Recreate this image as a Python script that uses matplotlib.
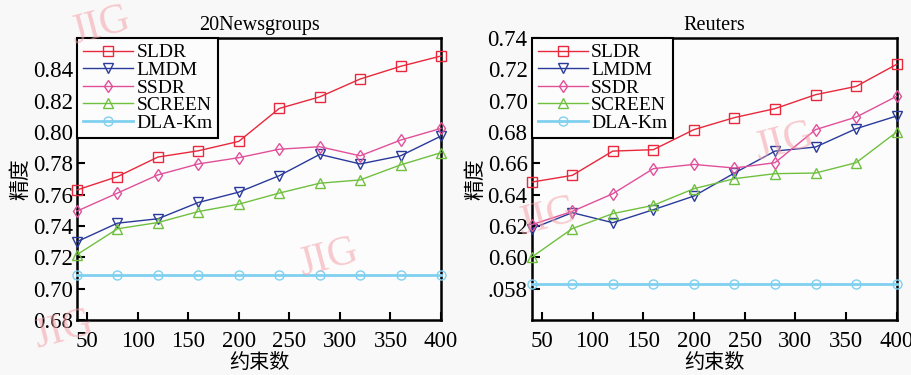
import matplotlib
matplotlib.use("Agg")
import matplotlib.pyplot as plt
import numpy as np

# ---- data ----
constraints = [40, 80, 120, 160, 200, 240, 280, 320, 360, 400]
xtick_vals = [50, 100, 150, 200, 250, 300, 350, 400]
series_names = ["SLDR", "LMDM", "SSDR", "SCREEN", "DLA-Km"]

news_sldr = [0.763, 0.7715, 0.784, 0.788, 0.794, 0.815, 0.8224, 0.8338, 0.8419, 0.8485]
news_lmdm = [0.730, 0.7418, 0.7446, 0.755, 0.7616, 0.7721, 0.7857, 0.7796, 0.7848, 0.7974]
news_ssdr = [0.7495, 0.761, 0.7726, 0.7796, 0.7836, 0.789, 0.7906, 0.7848, 0.7948, 0.8023]
news_screen = [0.7217, 0.7382, 0.7422, 0.7492, 0.7539, 0.761, 0.7673, 0.7694, 0.779, 0.7868]
news_dla = [0.709] * 10

reu_sldr = [0.648, 0.6523, 0.6678, 0.6687, 0.6815, 0.6892, 0.6949, 0.7038, 0.7091, 0.7232]
reu_lmdm = [0.6183, 0.6285, 0.6221, 0.6304, 0.6391, 0.6538, 0.6678, 0.6704, 0.6821, 0.6902]
reu_ssdr = [0.6208, 0.6293, 0.6406, 0.6566, 0.6593, 0.657, 0.6604, 0.6815, 0.6895, 0.7028]
reu_screen = [0.6001, 0.6183, 0.6279, 0.6332, 0.6438, 0.6502, 0.6534, 0.6538, 0.6604, 0.680]
reu_dla = [0.5832] * 10

news_yticks = [0.68, 0.70, 0.72, 0.74, 0.76, 0.78, 0.80, 0.82, 0.84]
news_ylabels = ["0.68", "0.70", "0.72", "0.74", "0.76", "0.78", "0.80", "0.82", "0.84"]
reu_yticks = [0.58, 0.60, 0.62, 0.64, 0.66, 0.68, 0.70, 0.72, 0.74]
reu_ylabels = [".058", "0.60", "0.62", "0.64", "0.66", "0.68", "0.70", "0.72", "0.74"]

# ---- style ----
colors = ["#e8283c", "#2a3a9a", "#e0509a", "#70c040", "#80d0f0"]
markers = ["s", "v", "d", "^", "o"]
lws = [1.0, 1.0, 1.0, 1.0, 2.0]
serif = "Liberation Serif"
cjk = ["Noto Sans CJK SC", "DejaVu Sans"]

fig = plt.figure(figsize=(9.12, 3.75), dpi=100, facecolor="#f8f8f8")
ax1 = fig.add_axes([0.0844, 0.1467, 0.3992, 0.752])
ax2 = fig.add_axes([0.583, 0.1467, 0.4002, 0.752])

def draw(ax, data, title, ylim, yticks, ylabels):
    ax.set_facecolor("#fcfcfc")
    for (vals, name, c, m, lw) in zip(data, series_names, colors, markers, lws):
        ax.plot(constraints, vals, color=c, marker=m, markersize=6.5, lw=lw,
                markerfacecolor="none", markeredgecolor=c, markeredgewidth=1.0,
                label=name, clip_on=False, zorder=3)
    ax.set_xlim(40, 400)
    ax.set_ylim(*ylim)
    ax.set_xticks(xtick_vals)
    ax.set_xticklabels([str(v) for v in xtick_vals], fontfamily=serif, fontsize=16.5)
    ax.set_yticks(yticks)
    ax.set_yticklabels(ylabels, fontfamily=serif, fontsize=16.5)
    ax.tick_params(direction="in", length=6, width=1.5, pad=3)
    ax.tick_params(axis="x", pad=8)
    for s in ax.spines.values():
        s.set_linewidth(1.8)
    ax.set_title(title, fontfamily=serif, fontsize=14.5, pad=6)
    ax.set_xlabel("约束数", fontfamily=cjk, fontsize=14.5, labelpad=0)
    ax.set_ylabel("精度", fontfamily=cjk, fontsize=15, labelpad=1)
    leg = ax.legend(loc="upper left", bbox_to_anchor=(0, 1), borderaxespad=0,
                    prop={"family": serif, "size": 14}, handlelength=2.6,
                    handletextpad=0.15, labelspacing=0.0, fancybox=False,
                    borderpad=0.3, framealpha=1)
    leg.get_frame().set_edgecolor("black")
    leg.get_frame().set_linewidth(1.5)
    leg.get_frame().set_facecolor("#fcfcfc")

draw(ax1, [news_sldr, news_lmdm, news_ssdr, news_screen, news_dla],
     "20Newsgroups", (0.68, 0.86), news_yticks, news_ylabels)
draw(ax2, [reu_sldr, reu_lmdm, reu_ssdr, reu_screen, reu_dla],
     "Reuters", (0.56, 0.74), reu_yticks, reu_ylabels)

# watermarks
wm = dict(fontfamily=serif, fontsize=30, color="#f4a0a8", alpha=0.55, rotation=15,
          ha="center", va="center", zorder=0)
fig.text(0.11, 0.93, "JIG", **wm)
fig.text(0.36, 0.31, "JIG", **wm)
fig.text(0.07, 0.12, "JIG", **wm)
fig.text(0.86, 0.62, "JIG", **wm)
fig.text(0.6, 0.42, "JIG", **wm)

fig.savefig("out.png", dpi=100, facecolor=fig.get_facecolor())
